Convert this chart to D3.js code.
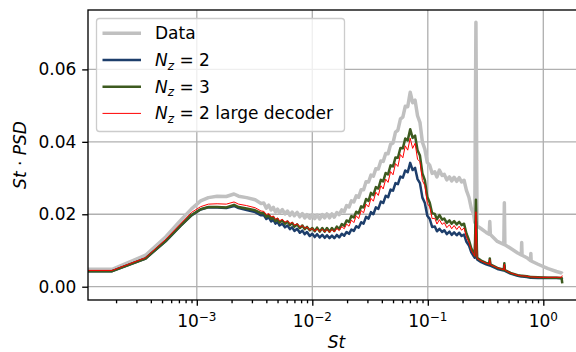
<!DOCTYPE html>
<html>
<head>
<meta charset="utf-8">
<script src="https://cdn.jsdelivr.net/npm/d3@7"></script>
<style>
body { margin: 0; background: #fff; }
svg { display: block; font-family: "DejaVu Sans", sans-serif; }
</style>
</head>
<body>
<div id="chart"></div>
<script>
// Strouhal numbers (shared grid for all series)
const st = [
  0.0001, 0.000185, 0.00036, 0.00054, 0.00072, 0.0009, 0.00108, 0.00126, 0.0015, 0.0018, 0.0021, 0.0023, 0.0027, 0.0032, 0.0036,
  0.0038, 0.0040, 0.0042, 0.0044, 0.0046, 0.0048, 0.0050, 0.0052, 0.0055, 0.0058,
  0.0061, 0.0064, 0.0067, 0.0070, 0.0074, 0.0078, 0.0082, 0.0086, 0.0090, 0.0095,
  0.0100, 0.0105, 0.0110, 0.0116, 0.0122, 0.0128, 0.0134, 0.0141, 0.0148, 0.0155,
  0.0163, 0.0171, 0.0180, 0.0189, 0.0198, 0.0208, 0.0218, 0.0229, 0.0240, 0.0252,
  0.0265, 0.0278, 0.0292, 0.0307, 0.0322, 0.0338, 0.0355, 0.0373, 0.0392, 0.0411,
  0.0432, 0.0453, 0.0476, 0.0500, 0.0525, 0.0551, 0.0579, 0.0608, 0.0638, 0.0670,
  0.0704, 0.0739, 0.0776, 0.0815, 0.0855, 0.0898, 0.0943, 0.0990, 0.104, 0.109,
  0.115, 0.120, 0.126, 0.133, 0.139, 0.146, 0.154, 0.161, 0.169, 0.178,
  0.187, 0.196, 0.206, 0.216, 0.227, 0.238, 0.250,
  0.255, 0.261, 0.267, 0.29, 0.32, 0.34, 0.344, 0.348, 0.40, 0.455, 0.46, 0.465, 0.52, 0.60, 0.645, 0.65, 0.655, 0.72, 0.775, 0.78, 0.785, 0.9, 1.1, 1.3, 1.44, 1.46
];

// St * PSD, reference data
const dataPsd = [
  0.0048, 0.0048, 0.0087, 0.0138, 0.0182, 0.0215, 0.0237, 0.0246, 0.0250, 0.0249, 0.0256, 0.0250, 0.0246, 0.0240, 0.0230,
  0.0231, 0.0217, 0.0225, 0.0212, 0.0219, 0.0206, 0.0214, 0.0204, 0.0213, 0.0201,
  0.0209, 0.0197, 0.0206, 0.0196, 0.0205, 0.0193, 0.0202, 0.0190, 0.0199, 0.0189,
  0.0199, 0.0188, 0.0198, 0.0187, 0.0199, 0.0190, 0.0201, 0.0190, 0.0201, 0.0192,
  0.0205, 0.0199, 0.0212, 0.0207, 0.0224, 0.0220, 0.0237, 0.0234, 0.0251, 0.0247,
  0.0268, 0.0268, 0.0290, 0.0289, 0.0308, 0.0305, 0.0326, 0.0325, 0.0347, 0.0346,
  0.0368, 0.0367, 0.0393, 0.0397, 0.0427, 0.0432, 0.0463, 0.0468, 0.0498, 0.0497,
  0.0537, 0.0508, 0.0515, 0.0472, 0.0454, 0.0399, 0.0380, 0.0343, 0.0335, 0.0313,
  0.0317, 0.0303, 0.0322, 0.0307, 0.0310, 0.0295, 0.0303, 0.0292, 0.0302, 0.0291,
  0.0301, 0.0289, 0.0294, 0.0266, 0.0247, 0.0216, 0.0198,
  0.0178, 0.0730, 0.0168, 0.0160, 0.0150, 0.0145, 0.0180, 0.0144, 0.0125, 0.0117, 0.0232, 0.0116, 0.0106, 0.0093, 0.0088, 0.0122, 0.0087, 0.0080, 0.0072, 0.0092, 0.0071, 0.0062, 0.0050, 0.0042, 0.0038, 0.0036
];

// N_z = 2
const nz2 = [
  0.0043, 0.0043, 0.0078, 0.0126, 0.0167, 0.0197, 0.0213, 0.0219, 0.0219, 0.0217, 0.0223, 0.0217, 0.0212, 0.0206, 0.0197,
  0.0198, 0.0187, 0.0192, 0.0180, 0.0185, 0.0174, 0.0179, 0.0169, 0.0174, 0.0164,
  0.0169, 0.0159, 0.0164, 0.0154, 0.0160, 0.0149, 0.0155, 0.0145, 0.0151, 0.0140,
  0.0146, 0.0137, 0.0145, 0.0136, 0.0143, 0.0135, 0.0142, 0.0134, 0.0141, 0.0134,
  0.0143, 0.0136, 0.0146, 0.0141, 0.0151, 0.0146, 0.0158, 0.0154, 0.0167, 0.0163,
  0.0178, 0.0174, 0.0193, 0.0188, 0.0206, 0.0200, 0.0219, 0.0215, 0.0235, 0.0231,
  0.0251, 0.0247, 0.0268, 0.0265, 0.0286, 0.0283, 0.0304, 0.0301, 0.0321, 0.0316,
  0.0342, 0.0322, 0.0328, 0.0297, 0.0286, 0.0246, 0.0231, 0.0196, 0.0187, 0.0165,
  0.0166, 0.0153, 0.0160, 0.0151, 0.0156, 0.0145, 0.0152, 0.0143, 0.0150, 0.0142,
  0.0149, 0.0140, 0.0144, 0.0124, 0.0114, 0.0095, 0.0084,
  0.0080, 0.0180, 0.0075, 0.0068, 0.0062, 0.0059, 0.0070, 0.0058, 0.0049, 0.0045, 0.0058, 0.0044, 0.0036, 0.0030, 0.0028, 0.0028, 0.0028, 0.0027, 0.0025, 0.0025, 0.0025, 0.0024, 0.0024, 0.0024, 0.0023, 0.0020
];

// N_z = 3
const nz3 = [
  0.0043, 0.0043, 0.0078, 0.0127, 0.0168, 0.0198, 0.0214, 0.0220, 0.0220, 0.0219, 0.0226, 0.0220, 0.0216, 0.0211, 0.0203,
  0.0204, 0.0193, 0.0198, 0.0187, 0.0192, 0.0181, 0.0187, 0.0177, 0.0183, 0.0174,
  0.0180, 0.0170, 0.0176, 0.0166, 0.0172, 0.0162, 0.0169, 0.0159, 0.0165, 0.0156,
  0.0162, 0.0153, 0.0163, 0.0152, 0.0162, 0.0152, 0.0162, 0.0152, 0.0162, 0.0154,
  0.0166, 0.0159, 0.0173, 0.0168, 0.0183, 0.0179, 0.0195, 0.0191, 0.0207, 0.0203,
  0.0222, 0.0219, 0.0242, 0.0237, 0.0259, 0.0253, 0.0275, 0.0271, 0.0295, 0.0291,
  0.0314, 0.0310, 0.0335, 0.0332, 0.0357, 0.0356, 0.0383, 0.0382, 0.0409, 0.0404,
  0.0435, 0.0411, 0.0417, 0.0377, 0.0362, 0.0313, 0.0294, 0.0248, 0.0232, 0.0203,
  0.0201, 0.0186, 0.0198, 0.0185, 0.0188, 0.0176, 0.0183, 0.0174, 0.0181, 0.0172,
  0.0179, 0.0170, 0.0174, 0.0147, 0.0129, 0.0106, 0.0093,
  0.0086, 0.0240, 0.0080, 0.0072, 0.0066, 0.0063, 0.0078, 0.0062, 0.0052, 0.0047, 0.0065, 0.0046, 0.0038, 0.0032, 0.0030, 0.0030, 0.0030, 0.0029, 0.0027, 0.0027, 0.0027, 0.0026, 0.0025, 0.0025, 0.0024, 0.0009
];

// N_z = 2 large decoder
const nz2Large = [
  0.0045, 0.0045, 0.0080, 0.0131, 0.0173, 0.0205, 0.0221, 0.0228, 0.0229, 0.0228, 0.0234, 0.0228, 0.0224, 0.0218, 0.0209,
  0.0208, 0.0199, 0.0202, 0.0193, 0.0195, 0.0186, 0.0190, 0.0182, 0.0186, 0.0178,
  0.0182, 0.0174, 0.0178, 0.0170, 0.0174, 0.0165, 0.0169, 0.0161, 0.0165, 0.0156,
  0.0161, 0.0153, 0.0160, 0.0152, 0.0159, 0.0151, 0.0158, 0.0150, 0.0158, 0.0151,
  0.0161, 0.0155, 0.0166, 0.0160, 0.0173, 0.0167, 0.0184, 0.0177, 0.0196, 0.0188,
  0.0210, 0.0204, 0.0228, 0.0220, 0.0244, 0.0236, 0.0261, 0.0252, 0.0279, 0.0270,
  0.0297, 0.0288, 0.0318, 0.0309, 0.0340, 0.0332, 0.0365, 0.0356, 0.0389, 0.0377,
  0.0410, 0.0382, 0.0396, 0.0352, 0.0345, 0.0293, 0.0279, 0.0230, 0.0220, 0.0188,
  0.0189, 0.0173, 0.0185, 0.0172, 0.0177, 0.0163, 0.0171, 0.0160, 0.0169, 0.0158,
  0.0167, 0.0156, 0.0162, 0.0137, 0.0123, 0.0100, 0.0089,
  0.0084, 0.0207, 0.0078, 0.0071, 0.0065, 0.0062, 0.0075, 0.0061, 0.0052, 0.0047, 0.0062, 0.0046, 0.0038, 0.0032, 0.0030, 0.0030, 0.0030, 0.0029, 0.0027, 0.0027, 0.0027, 0.0026, 0.0026, 0.0026, 0.0026, 0.0031
];

const xTicks = [1e-3, 1e-2, 1e-1, 1];
const xTickExp = ["\u22123", "\u22122", "\u22121", "0"];
const yTicks = [0, 0.02, 0.04, 0.06];
const yTickLabels = ["0.00", "0.02", "0.04", "0.06"];

const W = 576, H = 352;
const pL = 88, pR = 585, pT = 10, pB = 300;
const fs = 17;

const x = d3.scaleLog().domain([1.143e-4, 2.296]).range([pL, pR]);
const y = d3.scaleLinear().domain([-0.00367, 0.0764]).range([pB, pT]);

const svg = d3.select("#chart").append("svg")
  .attr("width", W).attr("height", H);

svg.append("defs").append("clipPath").attr("id", "clip")
  .append("rect").attr("x", pL).attr("y", pT)
  .attr("width", pR - pL).attr("height", pB - pT);

// grid
const grid = svg.append("g").attr("stroke", "#b0b0b0").attr("stroke-width", 1.33);
grid.selectAll(".gx").data(xTicks).enter().append("line")
  .attr("x1", d => x(d)).attr("x2", d => x(d)).attr("y1", pT).attr("y2", pB);
grid.selectAll(".gy").data(yTicks).enter().append("line")
  .attr("x1", pL).attr("x2", pR).attr("y1", d => y(d)).attr("y2", d => y(d));

// lines
const series = [
  { vals: dataPsd, color: "#c0c0c0", w: 3.5 },
  { vals: nz2, color: "#1d3e6b", w: 2.5 },
  { vals: nz3, color: "#3d5a1f", w: 2.5 },
  { vals: nz2Large, color: "#ff0000", w: 1 }
];
const line = d3.line().x(d => x(d[0])).y(d => y(d[1]));
const plot = svg.append("g").attr("clip-path", "url(#clip)");
series.forEach(s => {
  plot.append("path")
    .datum(st.map((v, i) => [v, s.vals[i]]))
    .attr("fill", "none")
    .attr("stroke", s.color)
    .attr("stroke-width", s.w)
    .attr("stroke-linejoin", "round")
    .attr("d", line);
});

// axes
const minor = [];
for (let e = -4; e <= 0; e++) for (let k = 2; k <= 9; k++) {
  const v = k * Math.pow(10, e);
  if (v > x.domain()[0] && v < x.domain()[1]) minor.push(v);
}
const gxMinor = svg.append("g").attr("transform", `translate(0,${pB})`)
  .call(d3.axisBottom(x).tickValues(minor).tickSize(3.3).tickFormat(""));
const gx = svg.append("g").attr("transform", `translate(0,${pB})`)
  .call(d3.axisBottom(x).tickValues(xTicks).tickSize(5.8).tickFormat(""));
const gy = svg.append("g").attr("transform", `translate(${pL},0)`)
  .call(d3.axisLeft(y).tickValues(yTicks).tickSize(5.8).tickPadding(5.8)
    .tickFormat((d, i) => yTickLabels[i]));
[gxMinor, gx, gy].forEach(g => {
  g.select(".domain").remove();
  g.selectAll("line").attr("stroke", "#000").attr("stroke-width", 1.33);
});
gy.selectAll("text").attr("font-size", fs).attr("fill", "#000")
  .attr("font-family", "DejaVu Sans");

const xl = svg.append("g").attr("font-size", fs).attr("text-anchor", "middle");
xTicks.forEach((v, i) => {
  const t = xl.append("text").attr("x", x(v)).attr("y", 327);
  t.append("tspan").text("10");
  t.append("tspan").attr("font-size", 12).attr("dy", -6.5).text(xTickExp[i]);
});

// spines
svg.append("rect").attr("x", pL).attr("y", pT).attr("width", pR - pL).attr("height", pB - pT)
  .attr("fill", "none").attr("stroke", "#000").attr("stroke-width", 1.33);

// axis labels
svg.append("text").attr("x", (pL + pR) / 2).attr("y", 348)
  .attr("text-anchor", "middle").attr("font-size", fs).attr("font-style", "italic").text("St");
const yLab = svg.append("text")
  .attr("transform", `translate(26,${(pT + pB) / 2}) rotate(-90)`)
  .attr("text-anchor", "middle").attr("font-size", fs);
yLab.append("tspan").attr("font-style", "italic").text("St");
yLab.append("tspan").text(" \u00b7 ");
yLab.append("tspan").attr("font-style", "italic").text("PSD");

// legend
const lg = svg.append("g");
lg.append("rect").attr("x", 96.5).attr("y", 18.5).attr("width", 248).attr("height", 113)
  .attr("rx", 3).attr("fill", "#fff").attr("fill-opacity", 0.8)
  .attr("stroke", "#cccccc").attr("stroke-width", 1.33);
const rowY = [33.3, 60, 86.7, 113.4];
series.forEach((s, i) => {
  lg.append("line").attr("x1", 102.5).attr("x2", 141)
    .attr("y1", rowY[i]).attr("y2", rowY[i])
    .attr("stroke", s.color).attr("stroke-width", s.w);
  const t = lg.append("text").attr("x", 155).attr("y", rowY[i] + 6).attr("font-size", fs);
  if (i === 0) {
    t.text("Data");
  } else {
    t.append("tspan").attr("font-style", "italic").text("N");
    t.append("tspan").attr("font-style", "italic").attr("font-size", 12).attr("dy", 3.5).text("z");
    t.append("tspan").attr("dy", -3.5).text(i === 2 ? " = 3" : " = 2");
    if (i === 3) t.append("tspan").text(" large decoder");
  }
});
</script>
</body>
</html>
